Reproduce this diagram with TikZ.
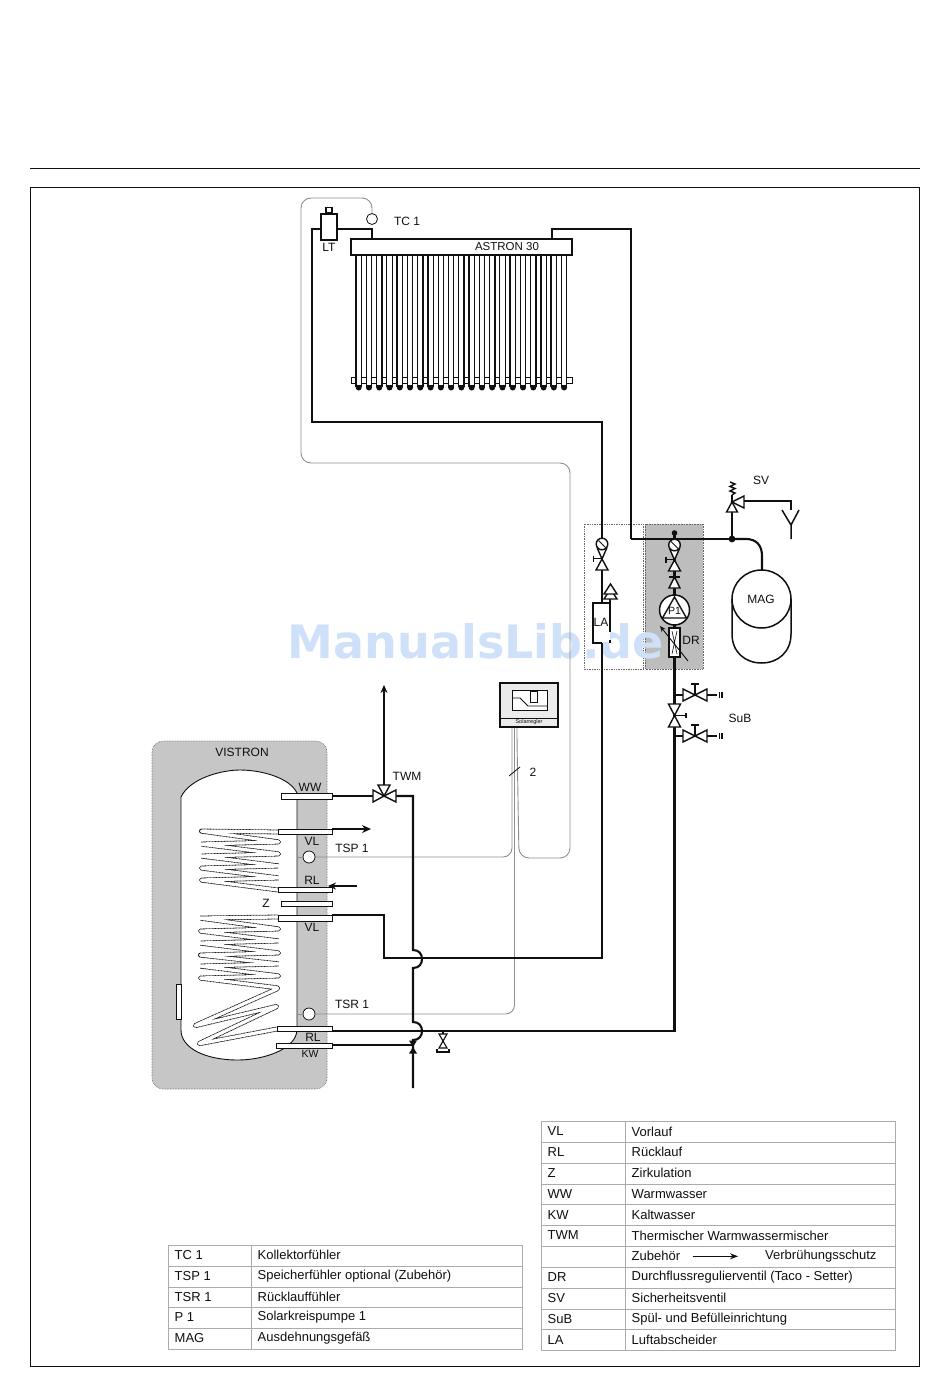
\documentclass[tikz,border=0pt]{standalone}
\usepackage{fontspec}
\setmainfont{Liberation Sans}
\newfontfamily\wmfont{DejaVu Sans}
\usetikzlibrary{arrows.meta,shapes.geometric}
\definecolor{boxgrey}{HTML}{BDBDBD}
\definecolor{tankgrey}{HTML}{C6C6C6}
\definecolor{tablegrey}{HTML}{ABABAB}
\definecolor{sensorgrey}{HTML}{8F8F8F}
\definecolor{wmblue}{HTML}{CFE1F8}
\definecolor{ink}{HTML}{101010}
\tikzset{
  pipe/.style={draw=ink,line width=2.1pt},
  thin pipe/.style={draw=ink,line width=1.7pt},
  thin line/.style={draw=ink,line width=1.2pt},
  sensor/.style={draw=sensorgrey,line width=0.9pt},
  valve/.style={draw=ink,line width=1.4pt,fill=white,line join=miter},
  lbl/.style={font=\fontsize{12}{12}\selectfont,text=ink,inner sep=0pt},
  tabl/.style={font=\fontsize{13}{13}\selectfont,text=ink,inner sep=0pt,anchor=west},
  tabrule/.style={draw=tablegrey,line width=1pt},
  flange/.style={draw=ink,line width=1pt,fill=white},
  coilout/.style={draw=ink,line width=4.8pt,rounded corners=2.5pt,line join=round,dash pattern=on 1pt off 0.5pt},
  coilin/.style={draw=white,line width=3.2pt,rounded corners=2.5pt,line join=round},
  gaugevalve/.pic={
    \draw[valve] (-5,3.5) -- (0,15) -- (5,3.5);
    \draw[valve] (0,0) circle (5.8);
    \draw[thin line,line width=.9pt] (-3.5,-3.5) -- (3.5,3.5);
    \draw[valve] (0,15) -- (-6,26) -- (6,26) -- cycle;
    \draw[thin line,line width=1.6pt] (-8.5,14.5) -- (0,14.5) (-8.5,11.5) -- (-8.5,17.5);
  },
  hvalve/.pic={
    \draw[valve] (0,0) -- (-12,-6) -- (-12,6) -- cycle;
    \draw[valve] (0,0) -- (12,-6) -- (12,6) -- cycle;
    \draw[thin line,line width=1.6pt] (0,0) -- (0,-11) (-4,-11) -- (4,-11);
    \draw[thin line] (12,0) -- (22,0);
    \draw[thin line] (24.5,-3) -- (24.5,3) (27,-3) -- (27,3);
  }
}
\begin{document}
\begin{tikzpicture}[x=1pt,y=-1pt]
\useasboundingbox (0,0) rectangle (950,1388);
\fill[white] (0,0) rectangle (950,1388);
% page rules
\draw[line width=1pt,draw=ink] (30,169) -- (920,169);
\draw[line width=.9pt,draw=ink] (30,187) rectangle (919,1366);

% backgrounds
\draw[draw=black!60,fill=boxgrey,densely dotted,line width=.6pt] (645,524) rectangle (703,669);
\draw[draw=black!60,densely dotted,line width=.7pt] (584,524) rectangle (643,669);
\draw[draw=black!60,fill=tankgrey,densely dotted,line width=.6pt,rounded corners=11pt] (152,741) rectangle (327,1089);
\node[font=\wmfont\bfseries\fontsize{46}{46}\selectfont,text=wmblue,inner sep=0pt] (wm) at (476,641) {ManualsLib.de};

% storage tank
\draw[fill=white,draw=ink,line width=.9pt] (181,797) .. controls (190,778) and (222,770) .. (240,770)
  .. controls (262,770) and (290,778) .. (297,793) -- (297,1030)
  .. controls (296,1050) and (262,1060) .. (238,1060)
  .. controls (205,1060) and (181,1048) .. (181,1030) -- cycle;
\draw[draw=ink,line width=.9pt,fill=white] (176,984) rectangle (181,1019);

% coils
\def\upcoil{(280,832) -- (200,831) -- (280,842) -- (200,844) -- (280,854) -- (200,856) -- (280,866) -- (200,868) -- (280,878) -- (200,880) -- (278,890)}
\def\locoil{(278,917) -- (199,918) -- (280,929) -- (199,931) -- (280,941) -- (199,943) -- (280,953) -- (199,955) -- (280,964) -- (199,966) -- (280,976) -- (199,978) -- (279,988) -- (194,1026) -- (278,1006) -- (198,1044) -- (277,1029)}
\draw[coilout] \upcoil;
\draw[coilin] \upcoil;
\draw[coilout] \locoil;
\draw[coilin] \locoil;

% flanges
\draw[flange] (281,793) rectangle (332,799);
\draw[flange] (278,829) rectangle (332,834);
\draw[flange] (278,887) rectangle (332,892);
\draw[flange] (281,901) rectangle (332,906);
\draw[flange] (278,915) rectangle (332,921);
\draw[flange] (277,1026) rectangle (332,1031);
\draw[flange] (276,1043) rectangle (332,1048);

% sensor wires
\coordinate (wa) at (512,727);
\coordinate (wb) at (514.5,727);
\coordinate (wc) at (517,727);
\node[draw=ink,line width=.8pt,fill=white,circle,minimum size=11pt,inner sep=0pt] (tc) at (372,219) {};
\node[draw=ink,line width=.8pt,fill=white,circle,minimum size=12pt,inner sep=0pt] (tsp) at (309,857) {};
\node[draw=ink,line width=.8pt,fill=white,circle,minimum size=12pt,inner sep=0pt] (tsr) at (309,1014) {};
\draw[sensor,rounded corners=10pt] (tc.north) -- (372,198) -- (301,198) -- (301,463) -- (570,463) -- (570,858) -- (519,858) -- (517,740) -- (wc);
\draw[sensor,rounded corners=9pt] (tsp.east) -- (512,857) -- (wa);
\draw[sensor,rounded corners=9pt] (tsr.east) -- (514.5,1014) -- (wb);
\draw[sensor] (tsp.west) -- (297,857) (tsr.west) -- (297,1014);
\draw[thin line,line width=.8pt] (509,776) -- (520,767);

% controller
\node[draw=ink,line width=1.8pt,fill=black!8,minimum width=58pt,minimum height=44pt,inner sep=0pt] (ctrl) at (529,705) {};
\draw[thin line,line width=.8pt] (500,718) -- (558,718);
\draw[thin line,line width=.9pt,fill=white] (512,690) rectangle (547,710);
\draw[thin line,line width=.8pt] (512,698) -- (520,698) -- (528,706) -- (547,706);
\draw[thin line,line width=.6pt] (530,691) rectangle (537,702);
\node[font=\fontsize{5.5}{6}\selectfont,inner sep=0pt,text=ink] (ctrltxt) at (529,722.5) {Solarregler};

% collector
\coordinate (hl) at (372,239);
\coordinate (hr) at (552,239);
\foreach \i in {0,...,20} {
  \pgfmathsetmacro{\tx}{358.7+\i*10.27}
  \draw[thin line,line width=1.3pt,fill=white] (\tx-2.7,255) -- (\tx-2.7,386) -- (\tx+2.7,386) -- (\tx+2.7,255);
}
\draw[thin line,line width=1pt,fill=white] (351,377) rectangle (572,383);
\foreach \i in {0,...,20} {
  \pgfmathsetmacro{\tx}{358.7+\i*10.27}
  \fill[ink] (\tx,387.5) circle (3);
  \draw[thin line,line width=1.3pt,fill=white] (\tx-2.7,372) -- (\tx-2.7,386) -- (\tx+2.7,386) -- (\tx+2.7,372);
}
\node[draw=ink,line width=1.3pt,fill=white,minimum width=221pt,minimum height=16pt,inner sep=0pt] (hdr) at (461.5,247) {};
\node[lbl,font=\fontsize{11.5}{12}\selectfont] (astron) at (507,247) {ASTRON 30};

% main pipes
\coordinate (lv) at (602,958);
\coordinate (j1) at (732,539);
\draw[thin pipe] (hl) -- (372,229) -- (312,229) -- (312,422) -- (602,422) -- (602,603);
\draw[pipe] (602,643) -- (lv) -- (422,958) (413,958) -- (384,958) -- (384,915) -- (332,915);
\draw[thin pipe] (hr) -- (552,229) -- (631,229) -- (631,539);
\draw[pipe] (631,539) -- (j1);
\draw[pipe] (j1) -- (746,539) .. controls (756,539) and (762,545) .. (762,556) -- (762,570);
\draw[pipe] (j1) -- (732,512);
\fill[ink] (j1) circle (3.4);
\draw[pipe] (674.5,533) -- (674.5,1031) -- (332,1031);
\draw[pipe] (332,796) -- (373,796);
\draw[pipe] (396,796) -- (413,796) -- (413,950) .. controls (419,950) and (422,954) .. (422,959) .. controls (422,964) and (419,968) .. (413,968) -- (413,1022) .. controls (419,1022) and (422,1026) .. (422,1031) .. controls (422,1036) and (419,1040) .. (413,1040) -- (413,1088);
\draw[pipe] (332,1045) -- (413,1045);
\draw[pipe] (422,958) -- (413,958);
\draw[thin pipe,-{Stealth[length=8pt,width=7pt]}] (384,785) -- (384,685);
\draw[pipe,-{Stealth[length=9pt,width=8pt]}] (332,829) -- (371,829);
\draw[thin pipe,-{Stealth[length=8pt,width=7pt]}] (357,886) -- (328,886);

% TWM
\draw[valve] (384,796) -- (373,790) -- (373,802) -- cycle;
\draw[valve] (384,796) -- (396,790) -- (396,802) -- cycle;
\draw[valve] (384,796) -- (378,785) -- (390,785) -- cycle;

% KW valve and drain
\fill[ink] (413,1047) -- (409,1040.5) -- (417,1040.5) -- cycle;
\fill[ink] (413,1047) -- (409,1053.5) -- (417,1053.5) -- cycle;
\draw[thin line] (443,1031) -- (443,1034);
\draw[valve,line width=1.1pt] (443,1041) -- (439,1034) -- (447,1034) -- cycle;
\draw[valve,line width=1.1pt] (443,1041) -- (439,1048) -- (447,1048) -- cycle;
\draw[thin line] (437,1049) -- (437,1052) -- (449,1052) -- (449,1049);

% LA branch
\pic at (602,544) {gaugevalve};
\draw[thin line,line width=1.5pt,fill=white] (610,603) -- (593,603) -- (593,643) -- (602,643);
\fill[white] (594,604) rectangle (609.5,642);
\draw[thin line,line width=1.5pt] (610,598) -- (610,632) (610,640) -- (610,643);
\draw[valve] (610.5,589) -- (617,599) -- (604,599) -- cycle;
\draw[valve] (610.5,584) -- (617,594) -- (604,594) -- cycle;

% pump line
\fill[ink] (674.5,533) circle (2.8);
\pic at (674.5,545) {gaugevalve};
\draw[thin line,line width=1.6pt] (669,577) -- (680,577);
\draw[valve] (674.5,577) -- (669,588) -- (680,588) -- cycle;
\node[draw=ink,line width=1.5pt,fill=white,circle,minimum size=30pt,inner sep=0pt] (pump) at (674.5,610) {};
\draw[valve,fill=none] (674.5,597) -- (662.5,618) -- (686.5,618) -- cycle;
\node[lbl,font=\fontsize{10.5}{11}\selectfont] (p1) at (674.5,611) {P1};
\node[draw=ink,line width=1.5pt,fill=white,minimum width=11pt,minimum height=29pt,inner sep=0pt] (dr) at (674.5,642.5) {};
\draw[thin line,line width=.6pt] (672,631) -- (677,654) (677,631) -- (672,654);
\draw[thin line,line width=.9pt,-{Stealth[length=6pt,width=5pt]}] (688,661) -- (660,626);

% SuB
\draw[valve] (674.5,715.5) -- (668.5,704) -- (680.5,704) -- cycle;
\draw[valve] (674.5,715.5) -- (668.5,727) -- (680.5,727) -- cycle;
\draw[thin line,line width=1.6pt] (674.5,715.5) -- (686,715.5) (686,713) -- (686,718);
\draw[thin line,line width=1.5pt] (674.5,695) -- (683,695) (674.5,736) -- (683,736);
\pic at (695,695) {hvalve};
\pic at (695,736) {hvalve};

% LT
\node[draw=ink,line width=1.2pt,fill=white,minimum width=16pt,minimum height=26pt,inner sep=0pt] (lt) at (329,227) {};
\node[draw=ink,line width=1.2pt,fill=white,minimum width=6pt,minimum height=5pt,inner sep=0pt,anchor=south] (ltt) at (lt.north) {};

% SV
\draw[valve] (732,502) -- (726.5,512) -- (737.5,512) -- cycle;
\draw[valve] (732,502) -- (744,496) -- (744,508) -- cycle;
\draw[thin line,line width=1.5pt] (732,502) -- (732,495);
\draw[thin line,line width=1.4pt] (730,482) -- (735,484) -- (730,486.5) -- (735,488.5) -- (730,491) -- (735,493) -- (732,495);
\draw[thin line,line width=1.5pt] (744,501) -- (791,501) -- (791,510);
\draw[thin line,line width=1.5pt] (782,510) -- (791,525) -- (799,510) (791,525) -- (791,539);

% MAG
\draw[draw=ink,line width=1.5pt,fill=white] (732,599) -- (732,634) .. controls (732,652) and (745,663) .. (761.5,663) .. controls (778,663) and (791,652) .. (791,634) -- (791,599);
\node[draw=ink,line width=1.5pt,fill=white,ellipse,minimum width=59pt,minimum height=58pt,inner sep=0pt] (magtop) at (761.5,599) {};
\node[lbl] (mag) at (761,599) {MAG};

% labels
\node[lbl] (ltl) at (329,247) {LT};
\node[lbl] (tcl) at (407,221) {TC 1};
\node[lbl] (svl) at (761,480) {SV};
\node[lbl] (lal) at (601,622) {LA};
\node[lbl] (drl) at (691,640) {DR};
\node[lbl] (subl) at (740,718) {SuB};
\node[lbl] (visl) at (242,752) {VISTRON};
\node[lbl] (twml) at (407,776) {TWM};
\node[lbl] (wwl) at (310,787) {WW};
\node[lbl] (vll) at (312,841) {VL};
\node[lbl] (tspl) at (352,848) {TSP 1};
\node[lbl] (rll) at (312,880) {RL};
\node[lbl] (zl) at (266,903) {Z};
\node[lbl] (vl2) at (312,927) {VL};
\node[lbl] (tsrl) at (352,1004) {TSR 1};
\node[lbl] (rl2) at (313,1037) {RL};
\node[lbl,font=\fontsize{10.5}{11}\selectfont] (kwl) at (310,1054) {KW};
\node[lbl] (twol) at (533,772) {2};

% right table
\draw[tabrule] (541.7,1121.7) rectangle (895,1350.7);
\draw[tabrule] (625.3,1121.7) -- (625.3,1350.7);
\foreach \i in {1,...,10} { \draw[tabrule] (541.7,1121.7+\i*20.82) -- (895,1121.7+\i*20.82); }
\foreach \a/\b [count=\i from 0] in {VL/Vorlauf,RL/Rücklauf,Z/Zirkulation,WW/Warmwasser,KW/Kaltwasser,TWM/Thermischer Warmwassermischer,/Zubehör,DR/Durchflussregulierventil (Taco - Setter),SV/Sicherheitsventil,SuB/Spül- und Befülleinrichtung,LA/Luftabscheider} {
  \node[tabl] (ra\i) at (547.5,1131.4+\i*20.82) {\a};
  \node[tabl] (rb\i) at (631.5,1131.4+\i*20.82) {\b};
}
\node[tabl] (rv) at (765,1256.3) {Verbrühungsschutz};
\draw[draw=ink,line width=1pt,-{Stealth[length=8pt,width=6pt]}] (693,1256.3) -- (738,1256.3);

% left table
\draw[tabrule] (168,1245.7) rectangle (522,1349.3);
\draw[tabrule] (251.7,1245.7) -- (251.7,1349.3);
\foreach \i in {1,...,4} { \draw[tabrule] (168,1245.7+\i*20.72) -- (522,1245.7+\i*20.72); }
\foreach \a/\b [count=\i from 0] in {TC 1/Kollektorfühler,TSP 1/Speicherfühler optional (Zubehör),TSR 1/Rücklauffühler,P 1/Solarkreispumpe 1,MAG/Ausdehnungsgefäß} {
  \node[tabl] (la\i) at (174.5,1255.2+\i*20.72) {\a};
  \node[tabl] (lb\i) at (257.5,1255.2+\i*20.72) {\b};
}
\end{tikzpicture}
\end{document}
